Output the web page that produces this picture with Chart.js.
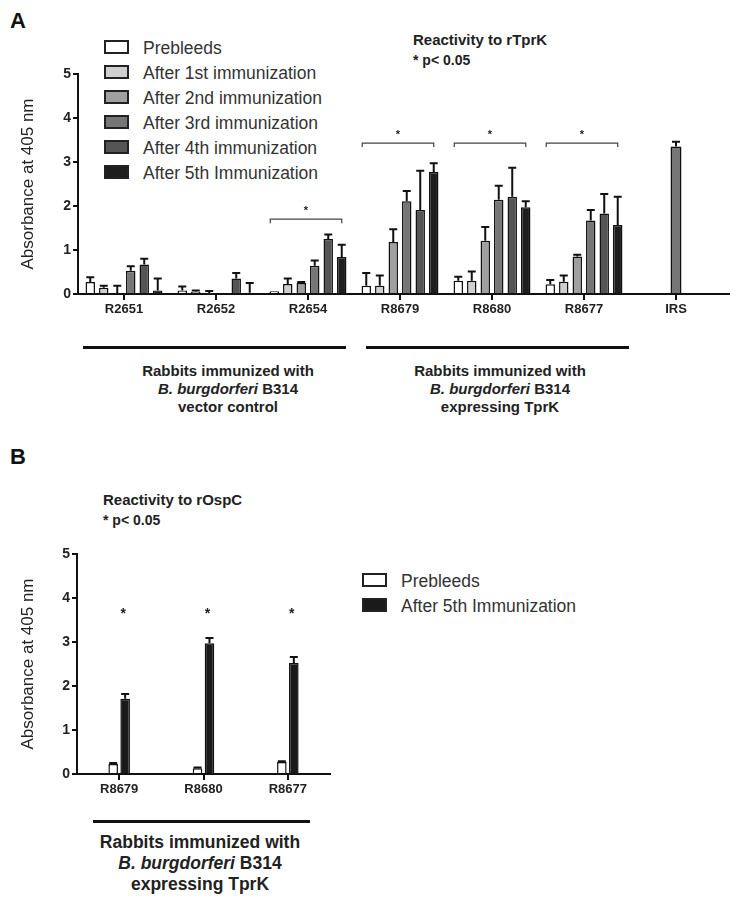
<!DOCTYPE html>
<html>
<head>
<meta charset="utf-8">
<script src="https://cdn.jsdelivr.net/npm/chart.js@4.4.1/dist/chart.umd.min.js"></script>
<style>
  body { margin: 0; background: #fff; font-family: "Liberation Sans", Arial, sans-serif; color: #222; }
  #wrap { position: relative; width: 738px; height: 900px; }
  .abs { position: absolute; white-space: nowrap; }
  .panel { font-weight: bold; font-size: 22px; color: #111; }
  .ttl { font-weight: bold; font-size: 15px; color: #222; }
  .sig { font-weight: bold; font-size: 14px; color: #222; }
  .grp { font-weight: bold; font-size: 15px; text-align: center; line-height: 18px; color: #222; }
  .grpB { font-size: 17.5px; line-height: 21px; }
  .rule { position: absolute; height: 3px; background: #111; }
  .leg { font-size: 17.5px; color: #333; line-height: 25px; }
  .leg span.box { display: inline-block; width: 21px; height: 10px; border: 2px solid #222; vertical-align: 0px; margin-right: 14px; }
  canvas { position: absolute; }
</style>
</head>
<body>
<div id="wrap">
  <div class="abs panel" style="left:10px;top:8px;">A</div>
  <div class="abs ttl" style="left:413px;top:31px;">Reactivity to rTprK</div>
  <div class="abs sig" style="left:413px;top:52px;">* p&lt; 0.05</div>
  <div class="abs leg" id="legA" style="left:104px;top:36px;"></div>

  <canvas id="chartA" width="738" height="340" style="left:0;top:0;"></canvas>

  <div class="rule" style="left:83px;top:346px;width:263px;"></div>
  <div class="rule" style="left:366px;top:346px;width:263px;"></div>
  <div class="abs grp" style="left:128px;top:362px;width:200px;">Rabbits immunized with<br><i>B. burgdorferi</i> B314<br>vector control</div>
  <div class="abs grp" style="left:400px;top:362px;width:200px;">Rabbits immunized with<br><i>B. burgdorferi</i> B314<br>expressing TprK</div>

  <div class="abs panel" style="left:10px;top:444px;">B</div>
  <div class="abs ttl" style="left:103px;top:491px;">Reactivity to rOspC</div>
  <div class="abs sig" style="left:103px;top:512px;">* p&lt; 0.05</div>
  <div class="abs leg" id="legB" style="left:362px;top:569px;"></div>

  <canvas id="chartB" width="360" height="300" style="left:0;top:500px;"></canvas>

  <div class="rule" style="left:93px;top:820px;width:217px;"></div>
  <div class="abs grp grpB" style="left:90px;top:832px;width:220px;">Rabbits immunized with<br><i>B. burgdorferi</i> B314<br>expressing TprK</div>
</div>

<script>
// ---- panel A data (reactivity to rTprK) ----
const rabbitsA = ['R2651', 'R2652', 'R2654', 'R8679', 'R8680', 'R8677', 'IRS']
const seriesNamesA = ['Prebleeds', 'After 1st immunization', 'After 2nd immunization',
  'After 3rd immunization', 'After 4th immunization', 'After 5th Immunization']
const prebleedA = [0.27, 0.08, 0.06, 0.19, 0.30, 0.22, null]
const imm1A = [0.14, 0.05, 0.23, 0.19, 0.30, 0.28, null]
const imm2A = [0.02, 0.01, 0.25, 1.18, 1.21, 0.85, null]
const imm3A = [0.53, 0.00, 0.64, 2.11, 2.14, 1.67, 3.35] // IRS shown in this series
const imm4A = [0.67, 0.35, 1.25, 1.91, 2.21, 1.83, null]
const imm5A = [0.08, 0.03, 0.84, 2.77, 1.97, 1.57, null]
// error bars (upper, SEM)
const prebleedErrA = [0.11, 0.09, 0, 0.29, 0.09, 0.10, null]
const imm1ErrA = [0.05, 0.03, 0.12, 0.23, 0.21, 0.14, null]
const imm2ErrA = [0.17, 0.06, 0.02, 0.29, 0.31, 0.04, null]
const imm3ErrA = [0.10, 0, 0.12, 0.23, 0.32, 0.24, 0.11]
const imm4ErrA = [0.13, 0.13, 0.10, 0.89, 0.66, 0.44, null]
const imm5ErrA = [0.27, 0.22, 0.28, 0.20, 0.14, 0.64, null]
// significance brackets
const bracketRabbitsA = ['R2654', 'R8679', 'R8680', 'R8677']
const bracketLevelA = [1.70, 3.43, 3.43, 3.43]

// ---- panel B data (reactivity to rOspC) ----
const rabbitsB = ['R8679', 'R8680', 'R8677']
const seriesNamesB = ['Prebleeds', 'After 5th Immunization']
const prebleedB = [0.23, 0.13, 0.27]
const imm5B = [1.71, 2.97, 2.52]
const prebleedErrB = [0.02, 0.02, 0.02]
const imm5ErrB = [0.11, 0.12, 0.14]
const starLevelB = 3.69

const yTicks = [0, 1, 2, 3, 4, 5]
const fillsA = ['#ffffff', '#cfcfcf', '#a0a0a0', '#767676', '#555555', '#1e1e1e']
const fillsB = ['#ffffff', '#1a1a1a']

const FONT = '"Liberation Sans", Arial, sans-serif'

// html legends
function makeLegend(id, names, fills) {
  document.getElementById(id).innerHTML = names.map((n, i) =>
    '<div><span class="box" style="background:' + fills[i] + '"></span>' + n + '</div>').join('')
}
makeLegend('legA', seriesNamesA, fillsA)
makeLegend('legB', seriesNamesB, fillsB)

// upward error bars drawn from bar elements and the y scale
const errorBars = {
  id: 'errorBars',
  afterDatasetsDraw(chart, args, opts) {
    const c = chart.ctx
    const y = chart.scales.y
    const area = chart.chartArea
    c.save()
    c.strokeStyle = '#111'
    c.lineWidth = 2
    // the original x axis runs a little past the last category
    if (opts.extend) {
      c.beginPath()
      c.moveTo(area.right, area.bottom)
      c.lineTo(area.right + opts.extend, area.bottom)
      c.stroke()
    }
    chart.data.datasets.forEach((ds, i) => {
      const meta = chart.getDatasetMeta(i)
      meta.data.forEach((bar, j) => {
        const v = ds.data[j]
        const e = ds.errors[j]
        if (v == null || !e) return
        const top = y.getPixelForValue(v + e)
        c.beginPath()
        c.moveTo(bar.x, bar.y)
        c.lineTo(bar.x, top)
        c.moveTo(bar.x - 4, top)
        c.lineTo(bar.x + 4, top)
        c.stroke()
      })
    })
    c.restore()
  }
}

const sigMarks = {
  id: 'sigMarks',
  afterDatasetsDraw(chart, args, opts) {
    const c = chart.ctx
    const y = chart.scales.y
    const labels = chart.data.labels
    const last = chart.data.datasets.length - 1
    c.save()
    c.strokeStyle = '#444'
    c.fillStyle = '#222'
    c.lineWidth = 1.2
    c.font = 'bold ' + opts.size + 'px ' + FONT
    c.textAlign = 'center'
    c.textBaseline = 'middle'
    ;(opts.cats || []).forEach((cat, k) => {
      const j = labels.indexOf(cat)
      const py = y.getPixelForValue(opts.levels[k])
      const x0 = chart.getDatasetMeta(0).data[j].x - 4
      const x1 = chart.getDatasetMeta(last).data[j].x
      if (opts.bracket) {
        c.beginPath()
        c.moveTo(x0, py + 4)
        c.lineTo(x0, py)
        c.lineTo(x1, py)
        c.lineTo(x1, py + 4)
        c.stroke()
        c.fillText('*', (x0 + x1) / 2, py - 8)
      } else {
        c.fillText('*', x1 - 2, py + 3)
      }
    })
    c.restore()
  }
}

function scalesFor(yWidth, xHeight) {
  return {
    x: {
      offset: true,
      grid: { offset: false, drawOnChartArea: false, drawTicks: true, tickLength: 6, color: '#111', lineWidth: 2 },
      border: { display: true, color: '#111', width: 2 },
      ticks: { color: '#222', font: { family: FONT, size: 13, weight: 'bold' }, padding: 2, maxRotation: 0 },
      afterFit(s) { s.height = xHeight }
    },
    y: {
      min: 0, max: 5,
      afterBuildTicks(s) { s.ticks = yTicks.map(v => ({ value: v })) },
      grid: { drawOnChartArea: false, drawTicks: true, tickLength: 5, color: '#111', lineWidth: 2 },
      border: { display: true, color: '#111', width: 2 },
      ticks: { color: '#222', font: { family: FONT, size: 14, weight: 'bold' }, padding: 2 },
      title: { display: true, text: 'Absorbance at 405 nm', color: '#222', font: { family: FONT, size: 17 }, padding: 0 },
      afterFit(s) { s.width = yWidth }
    }
  }
}

const valsA = [prebleedA, imm1A, imm2A, imm3A, imm4A, imm5A]
const errsA = [prebleedErrA, imm1ErrA, imm2ErrA, imm3ErrA, imm4ErrA, imm5ErrA]

new Chart(document.getElementById('chartA'), {
  type: 'bar',
  data: {
    labels: rabbitsA,
    datasets: seriesNamesA.map((n, i) => ({
      label: n,
      data: valsA[i],
      errors: errsA[i],
      backgroundColor: fillsA[i],
      borderColor: '#111',
      borderWidth: 1.5,
      borderSkipped: 'bottom',
      skipNull: true,
      maxBarThickness: 11,
      categoryPercentage: 0.88,
      barPercentage: 0.7
    }))
  },
  options: {
    responsive: false,
    animation: false,
    layout: { padding: { left: 18, right: 16, top: 74, bottom: 0 } },
    plugins: {
      legend: { display: false },
      tooltip: { enabled: false },
      errorBars: { extend: 8 },
      sigMarks: { cats: bracketRabbitsA, levels: bracketLevelA, bracket: true, size: 11 }
    },
    scales: scalesFor(60, 46)
  },
  plugins: [errorBars, sigMarks]
})

const valsB = [prebleedB, imm5B]
const errsB = [prebleedErrB, imm5ErrB]

new Chart(document.getElementById('chartB'), {
  type: 'bar',
  data: {
    labels: rabbitsB,
    datasets: seriesNamesB.map((n, i) => ({
      label: n,
      data: valsB[i],
      errors: errsB[i],
      backgroundColor: fillsB[i],
      borderColor: '#111',
      borderWidth: 1.5,
      borderSkipped: 'bottom',
      categoryPercentage: 0.284,
      barPercentage: 0.8
    }))
  },
  options: {
    responsive: false,
    animation: false,
    layout: { padding: { left: 18, right: 30, top: 54, bottom: 0 } },
    plugins: {
      legend: { display: false },
      tooltip: { enabled: false },
      errorBars: { extend: 0 },
      sigMarks: { cats: rabbitsB, levels: rabbitsB.map(() => starLevelB), bracket: false, size: 14 }
    },
    scales: scalesFor(59, 26)
  },
  plugins: [errorBars, sigMarks]
})
</script>
</body>
</html>
